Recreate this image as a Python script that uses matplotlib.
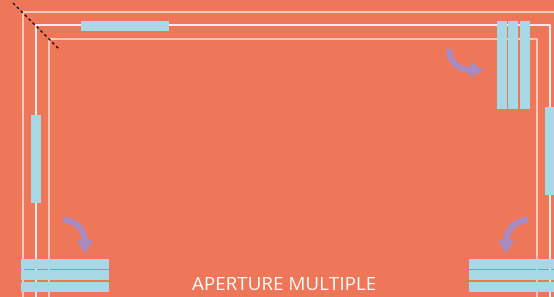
import matplotlib.pyplot as plt
from matplotlib.patches import Rectangle, FancyArrowPatch, Arc

bg = '#ef7759'
blue = '#a6d8e6'
purple = '#a88bc3'

# frame lines: (left, top, right), alpha
frames = [(23, 12, 565, 0.65), (36, 25, 550, 0.95), (49, 39, 537, 0.65)]

# light blue blocks: (x0, y0, x1, y1)
blocks = [
    (81, 21, 169, 31),
    (31, 115, 41, 203),
    (497, 21, 507, 109),
    (508, 21, 518, 109),
    (520, 21, 530, 109),
    (545, 107, 556, 195),
    (21, 259, 109, 269),
    (21, 270, 109, 280),
    (21, 282, 109, 292),
    (469, 259, 556, 269),
    (469, 270, 556, 280),
    (469, 282, 556, 292),
]

# curved arrows: arc centre, radius, theta1, theta2, head start, head tip
arrows = [
    ((470, 49), 21, 90, 180, (469, 70), (484, 70)),
    ((63, 242), 22, -90, 0, (85, 240), (85, 254)),
    ((528, 242), 22, 180, 270, (506, 240), (506, 254)),
]

fig = plt.figure(figsize=(5.54, 2.97), dpi=100)
fig.patch.set_facecolor(bg)
ax = fig.add_axes([0, 0, 1, 1])
ax.set_facecolor(bg)
ax.set_xlim(0, 554)
ax.set_ylim(297, 0)
ax.axis('off')

for l, t, r, a in frames:
    ax.plot([l, l, r, r], [310, t, t, 310], color='white', lw=1.3, alpha=a, zorder=1)

for x0, y0, x1, y1 in blocks:
    ax.add_patch(Rectangle((x0, y0), x1 - x0, y1 - y0, color=blue, lw=0, zorder=3))

ax.plot([13, 59], [3, 49], color='black', lw=1, ls=(0, (2, 2)), zorder=4)

for c, r, t1, t2, hs, he in arrows:
    arc = Arc(c, 2 * r, 2 * r, theta1=t1, theta2=t2, color=purple, lw=4.4, zorder=4)
    arc.set_capstyle('butt')
    ax.add_patch(arc)
    ax.add_patch(FancyArrowPatch(hs, he,
                                 arrowstyle='simple,head_width=11.5,head_length=10,tail_width=0.1',
                                 mutation_scale=1, color=purple, lw=0, zorder=4,
                                 shrinkA=0, shrinkB=0))

ax.text(284, 285, 'APERTURE MULTIPLE', color='white', fontsize=13.5,
        family='Open Sans', ha='center', va='center')

fig.savefig('out.png', dpi=100, facecolor=bg)
